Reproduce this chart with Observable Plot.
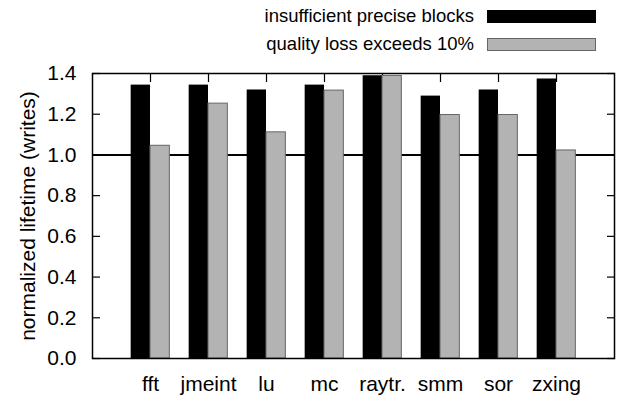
<!DOCTYPE html>
<html><head><meta charset="utf-8">
<script src="https://cdn.jsdelivr.net/npm/d3@7"></script>
<script src="https://cdn.jsdelivr.net/npm/@observablehq/plot@0.6"></script>
<style>
html,body{margin:0;padding:0;background:#fff;}
#wrap{position:relative;width:622px;height:401px;font-family:"Liberation Sans",Arial,sans-serif;}
.row{position:absolute;right:26px;display:flex;align-items:center;font-size:18.5px;color:#000;line-height:1;}
.sw{width:109px;height:13px;margin-left:13px;box-sizing:border-box;}
</style></head><body><div id="wrap"></div>
<script>
const categories = ["fft","jmeint","lu","mc","raytr.","smm","sor","zxing"];
const insufficient = [1.343,1.343,1.319,1.343,1.389,1.289,1.319,1.373];
const qualityLoss = [1.045,1.252,1.111,1.316,1.388,1.196,1.196,1.022];
const seriesNames = ["insufficient precise blocks","quality loss exceeds 10%"];
const yTicks = [0,0.2,0.4,0.6,0.8,1.0,1.2,1.4];
const referenceLine = [1.0];

const W = 622, H = 401, mL = 92, mR = 8, mT = 73, mB = 43;
const step = (W - mL - mR) / (categories.length + 1);

const data1 = categories.map((c,i)=>({cat:c, v:insufficient[i]}));
const data2 = categories.map((c,i)=>({cat:c, v:qualityLoss[i]}));

const chart = Plot.plot({
  width: W, height: H,
  marginLeft: mL, marginRight: mR, marginTop: mT, marginBottom: mB,
  style: {fontFamily: '"Liberation Sans", Arial, sans-serif', fontSize: "20px", color: "#000", background: "#fff"},
  x: {type: "band", domain: categories, paddingInner: 0, paddingOuter: 0.5, label: null},
  y: {domain: [0, 1.4], label: null},
  marks: [
    Plot.ruleY(referenceLine, {stroke: "#000", strokeWidth: 2}),
    Plot.axisY({anchor: "left", ticks: yTicks, tickFormat: d3.format(".1f"), tickSize: -8, tickPadding: 24, label: null, strokeWidth: 1.2, fontSize: 21}),
    Plot.axisY({anchor: "right", ticks: yTicks, tickFormat: () => "", tickSize: -8, label: null, strokeWidth: 1.2}),
    Plot.axisX({anchor: "top", tickFormat: () => "", tickSize: -8, label: null, strokeWidth: 1.2}),
    Plot.axisX({anchor: "bottom", tickSize: 0, tickPadding: 18, label: null, fontSize: 21}),
    Plot.barY(data1, {x: "cat", y: "v", fill: "#000", insetLeft: step/6, insetRight: step/2}),
    Plot.barY(data2, {x: "cat", y: "v", fill: "#b3b3b3", stroke: "#666", strokeWidth: 1, insetLeft: step/2, insetRight: step/6}),
    Plot.frame({stroke: "#000", strokeWidth: 1.5}),
    Plot.text(["normalized lifetime (writes)"], {frameAnchor: "left", rotate: -90, dx: -64, textAnchor: "middle", fontSize: 21})
  ]
});
const wrap = document.getElementById("wrap");
wrap.appendChild(chart);

const swatchStyles = [{bg:"#000", border:"1px solid #000"}, {bg:"#b3b3b3", border:"1px solid #666"}];
const tops = [7, 35];
seriesNames.forEach((name, i) => {
  const row = document.createElement("div");
  row.className = "row";
  row.style.top = tops[i] + "px";
  const t = document.createElement("span");
  t.textContent = name;
  const s = document.createElement("span");
  s.className = "sw";
  s.style.background = swatchStyles[i].bg;
  s.style.border = swatchStyles[i].border;
  row.appendChild(t); row.appendChild(s);
  wrap.appendChild(row);
});
</script></body></html>
